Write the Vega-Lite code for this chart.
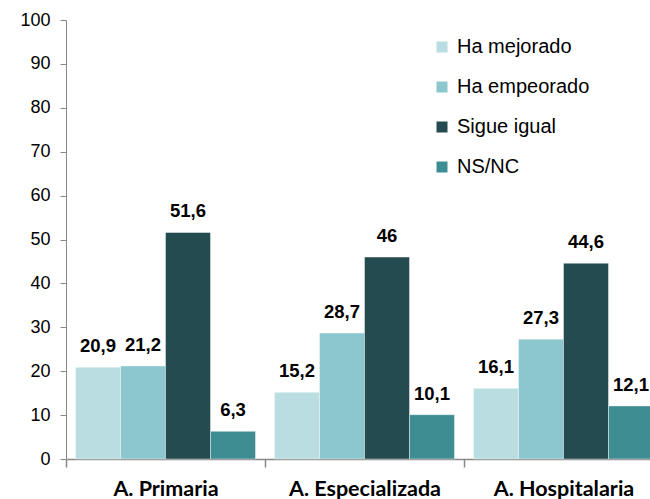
{
  "$schema": "https://vega.github.io/schema/vega-lite/v6.json",
  "width": 597,
  "height": 439,
  "autosize": {"type": "none"},
  "padding": {"left": 66, "top": 20, "right": 0, "bottom": 40},
  "background": "white",
  "config": {"view": {"stroke": null}, "font": "Liberation Sans"},
  "data": {
    "values": [
      {"cat": "A. Primaria", "serie": "Ha mejorado", "v": 20.9, "lab": "20,9"},
      {"cat": "A. Primaria", "serie": "Ha empeorado", "v": 21.2, "lab": "21,2"},
      {"cat": "A. Primaria", "serie": "Sigue igual", "v": 51.6, "lab": "51,6"},
      {"cat": "A. Primaria", "serie": "NS/NC", "v": 6.3, "lab": "6,3"},
      {"cat": "A. Especializada", "serie": "Ha mejorado", "v": 15.2, "lab": "15,2"},
      {"cat": "A. Especializada", "serie": "Ha empeorado", "v": 28.7, "lab": "28,7"},
      {"cat": "A. Especializada", "serie": "Sigue igual", "v": 46, "lab": "46"},
      {"cat": "A. Especializada", "serie": "NS/NC", "v": 10.1, "lab": "10,1"},
      {"cat": "A. Hospitalaria", "serie": "Ha mejorado", "v": 16.1, "lab": "16,1"},
      {"cat": "A. Hospitalaria", "serie": "Ha empeorado", "v": 27.3, "lab": "27,3"},
      {"cat": "A. Hospitalaria", "serie": "Sigue igual", "v": 44.6, "lab": "44,6"},
      {"cat": "A. Hospitalaria", "serie": "NS/NC", "v": 12.1, "lab": "12,1"}
    ]
  },
  "encoding": {
    "x": {
      "field": "cat", "type": "nominal", "sort": null,
      "scale": {"paddingInner": 0, "paddingOuter": 0},
      "axis": {
        "title": null, "labelAngle": 0, "domainColor": "#888888", "domainWidth": 1.5, "tickColor": "#888888",
        "tickBand": "extent", "tickSize": 8, "tickWidth": 1.5, "labelFont": "Lato", "labelFontWeight": "bold",
        "labelFontSize": 21.5, "labelColor": "#000000", "labelPadding": 11, "labelBaseline": "top"
      }
    },
    "xOffset": {
      "field": "serie", "type": "nominal", "sort": ["Ha mejorado", "Ha empeorado", "Sigue igual", "NS/NC"],
      "scale": {"paddingInner": 0, "paddingOuter": 0.211}
    },
    "y": {
      "field": "v", "type": "quantitative",
      "scale": {"domain": [0, 100], "nice": false},
      "axis": {
        "title": null, "grid": false, "values": [0,10,20,30,40,50,60,70,80,90,100],
        "domainColor": "#888888", "tickColor": "#888888", "tickSize": 6,
        "labelFontSize": 18, "labelColor": "#000000", "labelPadding": 10
      }
    }
  },
  "layer": [
    {
      "mark": {"type": "bar", "stroke": "white", "strokeWidth": 0.6, "strokeOpacity": 0.7},
      "encoding": {
        "color": {
          "field": "serie", "type": "nominal",
          "sort": ["Ha mejorado", "Ha empeorado", "Sigue igual", "NS/NC"],
          "scale": {"domain": ["Ha mejorado", "Ha empeorado", "Sigue igual", "NS/NC"],
                    "range": ["#b9dde1", "#8cc6ce", "#234b50", "#3e8d93"]},
          "legend": {
            "title": null, "orient": "none", "legendX": 366, "legendY": 17,
            "symbolType": "square", "symbolSize": 121, "symbolStrokeWidth": 0,
            "labelFontSize": 20, "labelColor": "#000000", "labelOffset": 5,
            "rowPadding": 20, "padding": 0
          }
        }
      }
    },
    {
      "mark": {"type": "text", "baseline": "alphabetic", "dy": -15, "fontWeight": "bold", "fontSize": 18.5, "color": "#000000"},
      "encoding": {"text": {"field": "lab"}}
    }
  ]
}
